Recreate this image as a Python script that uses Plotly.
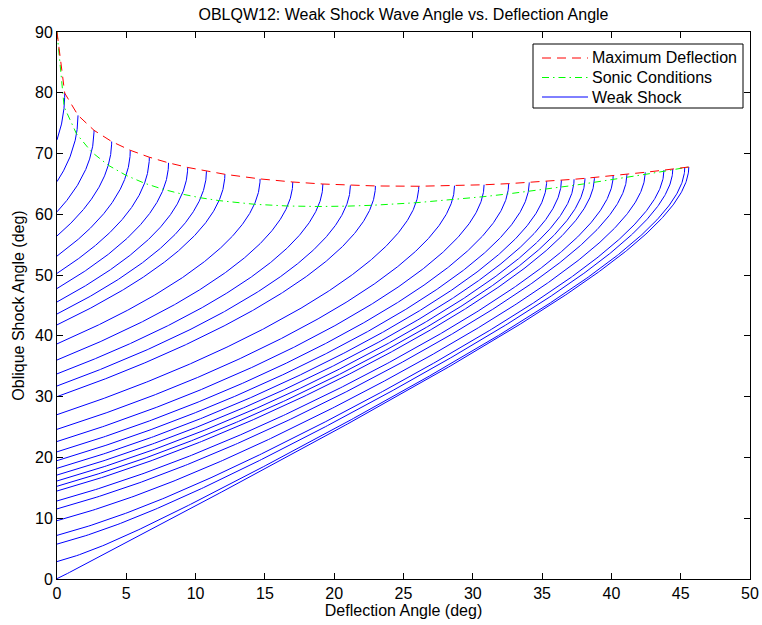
import numpy as np
import plotly.graph_objects as go

# Ratio of specific heats and the free-stream Mach numbers of the weak-shock family
GAMMA = 1.4
mach_numbers = [1.05, 1.1, 1.15, 1.2, 1.25, 1.3, 1.35, 1.4, 1.45, 1.5,
                1.6, 1.7, 1.8, 1.9, 2.0, 2.2, 2.4, 2.6, 2.8, 3.0,
                3.2, 3.4, 3.6, 3.8, 4.0, 4.5, 5.0, 6.0, 8.0, 10.0, 20.0, 1000.0]
# envelope curves also start from the sonic free stream
envelope_mach = [1.0] + mach_numbers

x_ticks = list(range(0, 51, 5))
y_ticks = list(range(0, 91, 10))
legend_labels = ["Maximum Deflection", "Sonic Conditions", "Weak Shock"]

FONT = "Liberation Sans, Arial, Helvetica, sans-serif"
FS = 16
W, H = 762, 625
ML, MR, MT, MB = 57, 12, 32, 46
PW, PH = W - ML - MR, H - MT - MB

BLUE = dict(color="#0000ff", width=1)
GREEN = dict(color="#00ff00", width=1, dash="7px,4px,1.5px,4px")
RED = dict(color="#ff0000", width=1, dash="9px,6px")


def deflection(M, beta):
    """Flow deflection angle (rad) for shock angle beta (rad)."""
    num = 2.0 / np.tan(beta) * (M**2 * np.sin(beta) ** 2 - 1.0)
    den = M**2 * (GAMMA + np.cos(2.0 * beta)) + 2.0
    return np.arctan(num / den)


def beta_at_max_deflection(M):
    g = GAMMA
    s2 = ((g + 1) / 4 * M**2 - 1
          + np.sqrt((g + 1) * (1 + (g - 1) / 2 * M**2 + (g + 1) / 16 * M**4))) / (g * M**2)
    return np.arcsin(np.sqrt(min(s2, 1.0)))


def downstream_mach(M, beta, theta):
    mn1 = M * np.sin(beta)
    mn2_sq = (1 + (GAMMA - 1) / 2 * mn1**2) / (GAMMA * mn1**2 - (GAMMA - 1) / 2)
    return np.sqrt(mn2_sq) / np.sin(beta - theta)


def weak_branch(M, n=400):
    mu = np.arcsin(1.0 / M)
    bmax = beta_at_max_deflection(M)
    beta = np.linspace(mu, bmax, n)
    theta = deflection(M, beta)
    theta[0] = 0.0
    return beta, theta


fig = go.Figure()

# weak-shock solution for each Mach number
for M in mach_numbers:
    beta, theta = weak_branch(M)
    fig.add_trace(go.Scatter(
        x=np.degrees(theta), y=np.degrees(beta), mode="lines",
        line=BLUE, name="Weak Shock", showlegend=False, hoverinfo="skip"))

# maximum-deflection and sonic (M2 = 1) loci
max_x, max_y, son_x, son_y = [], [], [], []
for M in envelope_mach:
    bmax = beta_at_max_deflection(M)
    max_x.append(np.degrees(deflection(M, bmax)) if M > 1 else 0.0)
    max_y.append(np.degrees(bmax))
    if M <= 1.0:
        son_x.append(0.0)
        son_y.append(90.0)
        continue
    beta, theta = weak_branch(M, 4000)
    m2 = downstream_mach(M, beta, theta)
    k = int(np.argmax(m2 < 1.0)) if np.any(m2 < 1.0) else len(m2) - 1
    f = (m2[k - 1] - 1.0) / (m2[k - 1] - m2[k])
    son_x.append(np.degrees(theta[k - 1] + f * (theta[k] - theta[k - 1])))
    son_y.append(np.degrees(beta[k - 1] + f * (beta[k] - beta[k - 1])))

fig.add_trace(go.Scatter(x=son_x, y=son_y, mode="lines", name="Sonic Conditions",
                         line=GREEN, showlegend=False, hoverinfo="skip"))
fig.add_trace(go.Scatter(x=max_x, y=max_y, mode="lines", name="Maximum Deflection",
                         line=RED, showlegend=False, hoverinfo="skip"))

axis_common = dict(
    showline=True, linecolor="black", linewidth=1, mirror="allticks",
    ticks="inside", ticklen=6, tickwidth=1, tickcolor="black",
    showgrid=False, zeroline=False, automargin=False,
    tickfont=dict(family=FONT, size=FS, color="black"),
)

fig.update_xaxes(range=[0, 50], tickvals=x_ticks, ticktext=[str(v) for v in x_ticks],
                 title=dict(text="Deflection Angle (deg)", standoff=1,
                            font=dict(family=FONT, size=FS, color="black")),
                 **axis_common)
fig.update_yaxes(range=[0, 90], tickvals=y_ticks, ticktext=[str(v) for v in y_ticks],
                 title=dict(text="Oblique Shock Angle (deg)", standoff=6,
                            font=dict(family=FONT, size=FS, color="black")),
                 **axis_common)


# boxed legend in the upper-right corner of the axes
def px_x(px):
    return (px - ML) / PW


def px_y(py):
    return (H - MB - py) / PH


shapes = [dict(type="rect", xref="paper", yref="paper",
               x0=px_x(533), x1=px_x(743), y0=px_y(108), y1=px_y(44),
               line=dict(color="black", width=1), fillcolor="white", layer="above")]
annotations = []
for row, (label, style) in enumerate(zip(legend_labels, [RED, GREEN, BLUE])):
    yc = px_y(58 + 19.5 * row)
    shapes.append(dict(type="line", xref="paper", yref="paper",
                       x0=px_x(542), x1=px_x(588), y0=yc, y1=yc,
                       line=style, layer="above"))
    annotations.append(dict(text=label, xref="paper", yref="paper", x=px_x(590), y=yc,
                            xanchor="left", yanchor="middle", showarrow=False,
                            font=dict(family=FONT, size=FS, color="black")))

fig.update_layout(
    width=W, height=H,
    margin=dict(l=ML, r=MR, t=MT, b=MB, autoexpand=False),
    paper_bgcolor="white", plot_bgcolor="white",
    title=dict(text="OBLQW12: Weak Shock Wave Angle vs. Deflection Angle",
               x=(ML + PW / 2) / W, xanchor="center", y=1 - 14 / H, yanchor="middle",
               font=dict(family=FONT, size=FS, color="black")),
    shapes=shapes, annotations=annotations,
    showlegend=False,
)

fig.write_html("out.html")
